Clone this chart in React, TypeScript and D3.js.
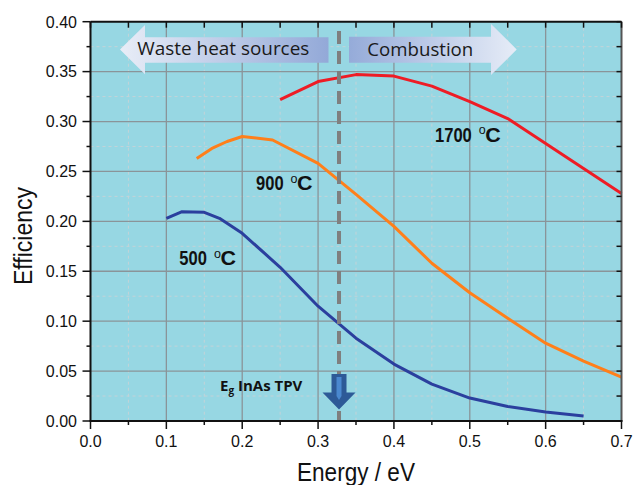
import React from "react";
import * as d3 from "d3";

const energy500 = [0.10, 0.12, 0.15, 0.17, 0.20, 0.25, 0.30, 0.35, 0.40, 0.45, 0.50, 0.55, 0.60, 0.65];
const eff500 = [0.203, 0.2095, 0.209, 0.203, 0.188, 0.154, 0.115, 0.083, 0.057, 0.037, 0.023, 0.0145, 0.009, 0.005];

const energy900 = [0.14, 0.16, 0.18, 0.20, 0.24, 0.30, 0.35, 0.40, 0.45, 0.50, 0.55, 0.60, 0.65, 0.70];
const eff900 = [0.263, 0.273, 0.280, 0.285, 0.2815, 0.258, 0.227, 0.195, 0.158, 0.1285, 0.103, 0.078, 0.060, 0.044];

const energy1700 = [0.25, 0.30, 0.35, 0.40, 0.45, 0.50, 0.55, 0.60, 0.65, 0.70];
const eff1700 = [0.322, 0.340, 0.347, 0.3455, 0.3355, 0.320, 0.303, 0.278, 0.253, 0.228];

const xTicks = [0.0, 0.1, 0.2, 0.3, 0.4, 0.5, 0.6, 0.7];
const yTicks = [0.0, 0.05, 0.1, 0.15, 0.2, 0.25, 0.3, 0.35, 0.4];
const bandgap = 0.3276;

const W = 635, H = 485;
const M = { left: 90.5, right: 621.5, top: 21.7, bottom: 421 };

export default function App() {
  const x = d3.scaleLinear().domain([0, 0.7]).range([M.left, M.right]);
  const y = d3.scaleLinear().domain([0, 0.4]).range([M.bottom, M.top]);
  const line = d3.line<[number, number]>().x(d => x(d[0])).y(d => y(d[1]));
  const series = [
    { e: energy500, v: eff500, color: "#2b3f9e" },
    { e: energy900, v: eff900, color: "#ff7f1a" },
    { e: energy1700, v: eff1700, color: "#ee1c25" },
  ];
  const xMinor = d3.range(0.05, 0.7, 0.1);
  const yMinor = d3.range(0.025, 0.4, 0.05);
  const xAll = d3.range(0, 0.7001, 0.05);
  const yAll = d3.range(0, 0.4001, 0.025);
  const labelFont = "'Liberation Sans', Arial, sans-serif";
  const narrowFont = "'Liberation Sans Narrow', 'Liberation Sans', Arial, sans-serif";
  const arrowFont = "'Open Sans', 'Lato', sans-serif";
  const bx = x(bandgap);
  const tempLabel = (lx: number, ly: number, t: string) => {
    const w = t.length * 9.2;
    return (
      <g>
        <text x={lx} y={ly} fontFamily={narrowFont} fontWeight="bold" fontSize={20} fill="#111" textLength={w} lengthAdjust="spacingAndGlyphs">{t}</text>
        <text x={lx + w + 7} y={ly - 7.5} fontFamily={labelFont} fontSize={12.5} fill="#111">o</text>
        <text x={lx + w + 13.5} y={ly} fontFamily={narrowFont} fontWeight="bold" fontSize={20} fill="#111" textLength={15.5} lengthAdjust="spacingAndGlyphs">C</text>
      </g>
    );
  };
  return (
    <svg width={W} height={H} style={{ position: "absolute", left: 0, top: 0 }}>
      <defs>
        <linearGradient id="gLeft" x1="0" x2="1" y1="0" y2="0">
          <stop offset="0" stopColor="#e8edf7" />
          <stop offset="1" stopColor="#93a9d8" />
        </linearGradient>
        <linearGradient id="gRight" x1="0" x2="1" y1="0" y2="0">
          <stop offset="0" stopColor="#95abd9" />
          <stop offset="1" stopColor="#e6ecf7" />
        </linearGradient>
      </defs>
      <rect x={0} y={0} width={W} height={H} fill="#fff" />
      <rect x={M.left} y={M.top} width={M.right - M.left} height={M.bottom - M.top} fill="#97d7e3" />
      {xMinor.map((t, i) => (
        <line key={"xm" + i} x1={x(t)} x2={x(t)} y1={M.top} y2={M.bottom} stroke="#c3d3d8" strokeWidth={1} strokeDasharray="3,3" />
      ))}
      {yMinor.map((t, i) => (
        <line key={"ym" + i} x1={M.left} x2={M.right} y1={y(t)} y2={y(t)} stroke="#c3d3d8" strokeWidth={1} strokeDasharray="3,3" />
      ))}
      {xTicks.slice(1, -1).map((t, i) => (
        <line key={"xg" + i} x1={x(t)} x2={x(t)} y1={M.top} y2={M.bottom} stroke="#8a9499" strokeWidth={1.3} />
      ))}
      {yTicks.slice(1, -1).map((t, i) => (
        <line key={"yg" + i} x1={M.left} x2={M.right} y1={y(t)} y2={y(t)} stroke="#8a9499" strokeWidth={1.3} />
      ))}
      {/* arrows */}
      <path d="M120,49.5 L145,25 L145,37.3 L328.5,37.3 L328.5,62.7 L145,62.7 L145,74.3 Z" fill="url(#gLeft)" />
      <text x={137.3} y={54.5} fontFamily={arrowFont} fontSize={19} fill="#1a1a1a" textLength={172} lengthAdjust="spacingAndGlyphs">Waste heat sources</text>
      <path d="M349,36.7 L491,36.7 L491,24 L516.7,49.5 L491,75 L491,62.7 L349,62.7 Z" fill="url(#gRight)" />
      <text x={367.3} y={55.5} fontFamily={arrowFont} fontSize={19} fill="#1a1a1a" textLength={106} lengthAdjust="spacingAndGlyphs">Combustion</text>
      {/* curves */}
      {series.map((s, i) => (
        <path key={i} d={line(s.e.map((e, j) => [e, s.v[j]] as [number, number])) || ""} fill="none" stroke={s.color} strokeWidth={3} strokeLinejoin="round" />
      ))}
      {/* bandgap dashed line */}
      <line x1={bx} x2={bx} y1={31} y2={M.bottom} stroke="#7f7f7f" strokeWidth={4} strokeDasharray="13,7" />
      {/* down arrow */}
      <path
        d={`M${bx - 7.5},374 L${bx + 7.5},374 L${bx + 7.5},392.5 L${bx + 16.5},392.5 L${bx},409.5 L${bx - 16.5},392.5 L${bx - 7.5},392.5 Z`}
        fill="#2d5a97"
      />
      <path d={`M${bx - 2.5},377 L${bx + 2.5},377 L${bx + 2.5},396 L${bx},400 L${bx - 2.5},396 Z`} fill="#4a88cf" />
      {/* labels */}
      {tempLabel(435, 141.5, "1700")}
      {tempLabel(256, 190, "900")}
      {tempLabel(179.3, 265, "500")}
      <text x={220} y={390.5} fontFamily={arrowFont} fontWeight="bold" fontSize={15} fill="#111">
        E<tspan dy={3.5} fontSize={10}>g</tspan><tspan dy={-3.5}> InAs TPV</tspan>
      </text>
      {/* axes frame */}
      <line x1={M.left} x2={M.right} y1={M.top} y2={M.top} stroke="#111" strokeWidth={2} />
      <line x1={M.right} x2={M.right} y1={M.top} y2={M.bottom} stroke="#555" strokeWidth={2} />
      <line x1={M.left} x2={M.left} y1={M.top} y2={M.bottom} stroke="#111" strokeWidth={2} />
      <line x1={M.left - 1} x2={M.right + 1} y1={M.bottom} y2={M.bottom} stroke="#111" strokeWidth={2} />
      {/* ticks */}
      {xAll.map((t, i) => {
        const major = i % 2 === 0;
        return (
          <g key={"xt" + i}>
            <line x1={x(t)} x2={x(t)} y1={M.bottom} y2={M.bottom + (major ? 8 : 4)} stroke="#111" strokeWidth={1.5} />
            <line x1={x(t)} x2={x(t)} y1={M.top} y2={M.top + 6} stroke="#111" strokeWidth={1.5} />
          </g>
        );
      })}
      {yAll.map((t, i) => {
        const major = i % 2 === 0;
        return (
          <g key={"yt" + i}>
            <line x1={M.left} x2={M.left - (major ? 8 : 4)} y1={y(t)} y2={y(t)} stroke="#111" strokeWidth={1.5} />
            <line x1={M.right} x2={M.right - 5} y1={y(t)} y2={y(t)} stroke="#111" strokeWidth={1.5} />
          </g>
        );
      })}
      {xTicks.map((t, i) => (
        <text key={"xl" + i} x={x(t)} y={447} textAnchor="middle" fontFamily={labelFont} fontSize={16} fill="#111">{d3.format(".1f")(t)}</text>
      ))}
      {yTicks.map((t, i) => (
        <text key={"yl" + i} x={77} y={y(t) + 5.8} textAnchor="end" fontFamily={labelFont} fontSize={16} fill="#111">{d3.format(".2f")(t)}</text>
      ))}
      <text x={356} y={481} textAnchor="middle" fontFamily={narrowFont} fontSize={25} fill="#111" textLength={118} lengthAdjust="spacingAndGlyphs">Energy / eV</text>
      <text transform="translate(31.5,236) rotate(-90)" textAnchor="middle" fontFamily={narrowFont} fontSize={25} fill="#111" textLength={98} lengthAdjust="spacingAndGlyphs">Efficiency</text>
    </svg>
  );
}
